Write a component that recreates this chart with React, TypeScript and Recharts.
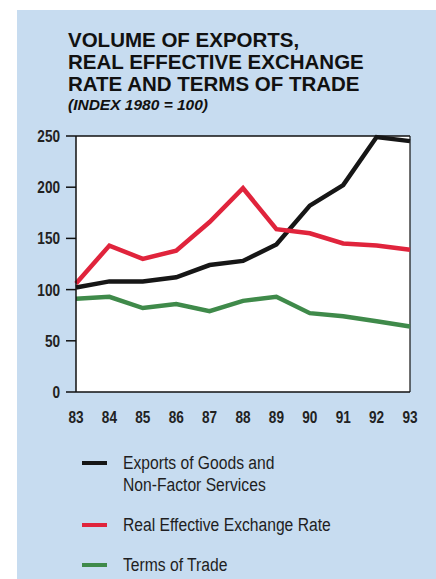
import React from 'react';
import { LineChart, Line, XAxis, YAxis, CartesianGrid, ReferenceLine, Legend } from 'recharts';

const years = ['83', '84', '85', '86', '87', '88', '89', '90', '91', '92', '93'];
const exportsVolume = [102, 108, 108, 112, 124, 128, 144, 182, 202, 249, 245];
const realExchangeRate = [106, 143, 130, 138, 166, 199, 159, 155, 145, 143, 139];
const termsOfTrade = [91, 93, 82, 86, 79, 89, 93, 77, 74, 69, 64];
const yTicks = [0, 50, 100, 150, 200, 250];
const seriesNames = ['Exports of Goods and\nNon-Factor Services', 'Real Effective Exchange Rate', 'Terms of Trade'];
const titleLines = ['VOLUME OF EXPORTS,', 'REAL EFFECTIVE EXCHANGE', 'RATE AND TERMS OF TRADE'];
const subtitle = '(INDEX 1980 = 100)';

const data = years.map((y, i) => ({
  year: y,
  exp: exportsVolume[i],
  reer: realExchangeRate[i],
  tot: termsOfTrade[i],
}));

const SANS = "'Liberation Sans', Arial, Helvetica, sans-serif";

const YTick = (props: any) => {
  const { x, y, payload } = props;
  return (
    <g transform={`translate(${x},${y}) scale(0.85,1)`}>
      <text x={0} y={0} dy={6} textAnchor="end" fontFamily={SANS} fontWeight="bold" fontSize={16} fill="#222">
        {payload.value}
      </text>
    </g>
  );
};

const XTick = (props: any) => {
  const { x, y, payload } = props;
  return (
    <g transform={`translate(${x},${y}) scale(0.85,1)`}>
      <text x={0} y={0} dy={14} textAnchor="middle" fontFamily={SANS} fontWeight="bold" fontSize={16} fill="#222">
        {payload.value}
      </text>
    </g>
  );
};

const renderLegend = (props: any) => {
  const { payload } = props;
  return (
    <div style={{ fontFamily: SANS, fontSize: 18, color: '#1e1e22' }}>
      {(payload || []).map((entry: any, i: number) => (
        <div key={i} style={{ display: 'flex', alignItems: 'flex-start', marginBottom: 18, lineHeight: '22px' }}>
          <div style={{ width: 25, height: 4, background: entry.color, marginTop: 9, marginRight: 16, flexShrink: 0 }} />
          <div style={{ whiteSpace: 'pre-line', transform: 'scaleX(0.87)', transformOrigin: 'left top' }}>{entry.value}</div>
        </div>
      ))}
    </div>
  );
};

export default function App() {
  return (
    <div style={{ position: 'absolute', left: 0, top: 0, width: 436, height: 579, background: '#ffffff', overflow: 'hidden' }}>
      <div style={{ position: 'absolute', left: 17, top: 10, width: 419, height: 569, background: '#c7dcf0' }} />
      <div style={{ position: 'absolute', left: 68, top: 28.5, fontFamily: SANS, fontWeight: 'bold', fontSize: 20.5, lineHeight: '22px', color: '#111' }}>
        {titleLines.map((t, i) => (
          <div key={i}>{t}</div>
        ))}
      </div>
      <div style={{ position: 'absolute', left: 68, top: 95.5, fontFamily: SANS, fontWeight: 'bold', fontStyle: 'italic', fontSize: 15.5, color: '#111' }}>
        {subtitle}
      </div>
      <div style={{ position: 'absolute', left: 0, top: 0 }}>
        <LineChart width={436} height={579} data={data} margin={{ top: 136, right: 26, left: 0, bottom: 157 }}>
          <CartesianGrid fill="#ffffff" horizontal={false} vertical={false} />
          <XAxis
            dataKey="year"
            tickLine={false}
            tickSize={0}
            tickMargin={17}
            axisLine={{ stroke: '#111', strokeWidth: 1.5 }}
            height={30}
            interval={0}
            tick={<XTick />}
          />
          <YAxis
            domain={[0, 250]}
            ticks={yTicks}
            width={76}
            tickSize={10}
            tickMargin={6}
            axisLine={{ stroke: '#111', strokeWidth: 1.5 }}
            tickLine={{ stroke: '#111', strokeWidth: 1.5 }}
            tick={<YTick />}
          />
          <ReferenceLine y={250} stroke="#111" strokeWidth={1.5} />
          <ReferenceLine x="93" stroke="#111" strokeWidth={1.2} />
          <Line type="linear" dataKey="exp" name={seriesNames[0]} stroke="#161616" strokeWidth={4.5} dot={false} isAnimationActive={false} />
          <Line type="linear" dataKey="reer" name={seriesNames[1]} stroke="#e0243c" strokeWidth={4.5} dot={false} isAnimationActive={false} />
          <Line type="linear" dataKey="tot" name={seriesNames[2]} stroke="#3f8a4a" strokeWidth={4.5} dot={false} isAnimationActive={false} />
          <Legend
            layout="vertical"
            align="center"
            verticalAlign="middle"
            content={renderLegend}
            wrapperStyle={{ position: 'absolute', left: 82, top: 452, width: 320 }}
          />
        </LineChart>
      </div>
    </div>
  );
}
